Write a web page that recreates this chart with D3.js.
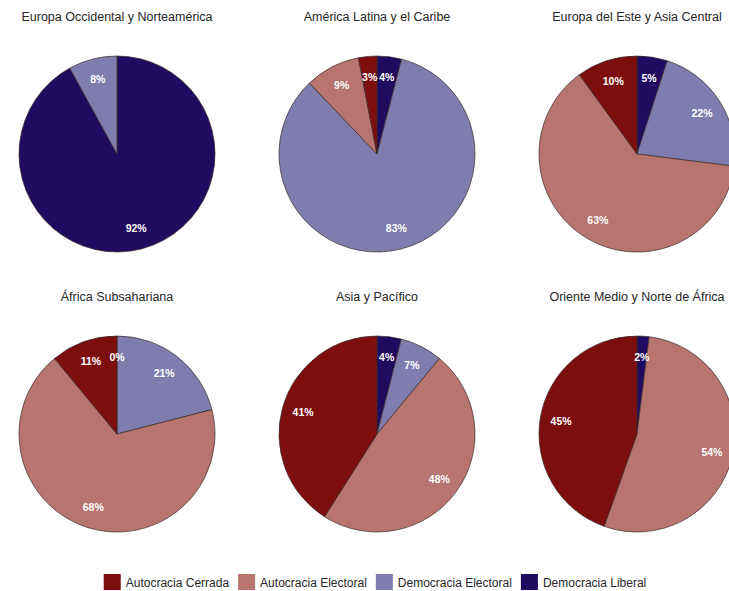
<!DOCTYPE html>
<html>
<head>
<meta charset="utf-8">
<script src="https://cdn.jsdelivr.net/npm/d3@7"></script>
<style>
  html, body { margin: 0; padding: 0; background: #ffffff; }
  svg { display: block; font-family: "Liberation Sans", Arial, Helvetica, sans-serif; }
</style>
</head>
<body>
<svg id="chart" width="729" height="591"></svg>
<script>
// Regime shares (%) by world region
const regions = [
  "Europa Occidental y Norteamérica",
  "América Latina y el Caribe",
  "Europa del Este y Asia Central",
  "África Subsahariana",
  "Asia y Pacífico",
  "Oriente Medio y Norte de África"
];
const categories = ["Democracia Liberal", "Democracia Electoral", "Autocracia Electoral", "Autocracia Cerrada"];
const democraciaLiberal   = [92, 4, 5, 0, 4, 2];
const democraciaElectoral = [8, 83, 22, 21, 7, null];
const autocraciaElectoral = [null, 9, 63, 68, 48, 54];
const autocraciaCerrada   = [null, 3, 10, 11, 41, 45];
const legendOrder = ["Autocracia Cerrada", "Autocracia Electoral", "Democracia Electoral", "Democracia Liberal"];

const seriesByCategory = {
  "Democracia Liberal": democraciaLiberal,
  "Democracia Electoral": democraciaElectoral,
  "Autocracia Electoral": autocraciaElectoral,
  "Autocracia Cerrada": autocraciaCerrada
};

const color = d3.scaleOrdinal()
  .domain(["Autocracia Cerrada", "Autocracia Electoral", "Democracia Electoral", "Democracia Liberal"])
  .range(["#7c0e0e", "#b8746e", "#7e7dad", "#1f0b5f"]);

const svg = d3.select("#chart");

const cols = 3;
const colX = d3.scalePoint().domain(d3.range(cols)).range([117, 637]);
const rowY = d3.scalePoint().domain([0, 1]).range([154, 434]);
const R = 98;
const labelR = 77;

const pie = d3.pie().sort(null).value(d => d.value);
const arc = d3.arc().innerRadius(0).outerRadius(R);
const labelArc = d3.arc().innerRadius(labelR).outerRadius(labelR);

regions.forEach((name, i) => {
  const cx = colX(i % cols);
  const cy = rowY(Math.floor(i / cols));
  const rows = categories
    .map(c => ({ cat: c, value: seriesByCategory[c][i] }))
    .filter(d => d.value !== null);

  const g = svg.append("g").attr("transform", `translate(${cx},${cy})`);

  svg.append("text")
    .attr("x", cx)
    .attr("y", cy - 133)
    .attr("text-anchor", "middle")
    .attr("font-size", 12.5)
    .attr("fill", "#262626")
    .text(name);

  const arcs = pie(rows);

  g.selectAll("path.slice")
    .data(arcs)
    .join("path")
    .attr("class", "slice")
    .attr("d", arc)
    .attr("fill", d => color(d.data.cat))
    .attr("stroke", "#3a2a2a")
    .attr("stroke-width", 0.7);

  g.selectAll("text.lbl")
    .data(arcs)
    .join("text")
    .attr("class", "lbl")
    .attr("transform", d => `translate(${labelArc.centroid(d)})`)
    .attr("text-anchor", "middle")
    .attr("dy", "0.36em")
    .attr("font-size", 10.5)
    .attr("font-weight", "bold")
    .attr("fill", "#ffffff")
    .text(d => d.data.value + "%");
});

// Legend along the bottom
const legend = svg.append("g");
let xPos = 0;
legendOrder.forEach(cat => {
  const item = legend.append("g").attr("transform", `translate(${xPos},0)`);
  item.append("rect")
    .attr("x", 0).attr("y", 0)
    .attr("width", 17).attr("height", 16)
    .attr("fill", color(cat));
  const t = item.append("text")
    .attr("x", 22).attr("y", 12.5)
    .attr("font-size", 12)
    .attr("fill", "#262626")
    .text(cat);
  xPos += 22 + t.node().getComputedTextLength() + 9;
});
const legendWidth = xPos - 9;
legend.attr("transform", `translate(${375 - legendWidth / 2},574)`);
</script>
</body>
</html>
